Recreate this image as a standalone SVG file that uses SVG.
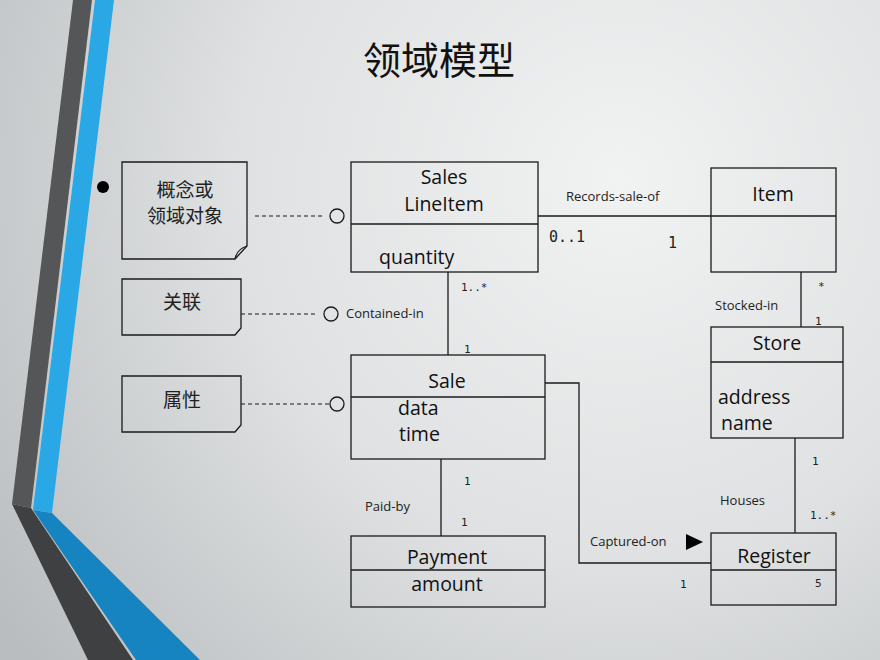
<svg xmlns="http://www.w3.org/2000/svg" width="880" height="660" viewBox="0 0 880 660">
<defs>
<radialGradient id="bg" cx="620" cy="180" r="760" gradientUnits="userSpaceOnUse">
<stop offset="0" stop-color="#f1f2f2"/>
<stop offset="0.5" stop-color="#dfe1e2"/>
<stop offset="1" stop-color="#b9bdbf"/>
</radialGradient>
<style>
.box{fill:none;stroke:#1a1a1a;stroke-width:1.3}
.ln{fill:none;stroke:#1a1a1a;stroke-width:1.3}
.dash{fill:none;stroke:#1a1a1a;stroke-width:1.2;stroke-dasharray:4 3}
.oc{fill:none;stroke:#1a1a1a;stroke-width:1.3}
.cls{font-family:"Open Sans","Noto Sans",sans-serif;font-size:19.5px;fill:#111}
.lab{font-family:"Open Sans","Noto Sans",sans-serif;font-size:13px;fill:#222}
.mono{font-family:"DejaVu Sans Mono","Liberation Mono",monospace;fill:#222}
.cjk{font-family:"Noto Sans CJK SC",sans-serif;fill:#222}
</style>
</defs>
<rect width="880" height="660" fill="url(#bg)"/>
<g id="stripes">
<polygon points="73,0 92,0 31,508 12,504" fill="#555657"/>
<polygon points="12,504 31,508 133,660 88,660" fill="#3f4041"/>
<polygon points="95,0 114,0 52,513 33,510" fill="#2aa8e6"/>
<polygon points="33,510 52,513 200,660 136,660" fill="#1784c2"/>
</g>
<text x="439" y="74" text-anchor="middle" class="cjk" font-size="38" style="fill:#111">领域模型</text>
<circle cx="103" cy="187" r="6" fill="#000"/>
<g id="note1">
<path class="box" d="M122,162 H247 V246 L235,259 H122 Z"/>
<path class="box" d="M235,259 Q237,249 247,246" stroke-width="1"/>
<text x="185" y="197" text-anchor="middle" class="cjk" font-size="19">概念或</text>
<text x="185" y="223" text-anchor="middle" class="cjk" font-size="19">领域对象</text>
</g>
<g id="note2">
<path class="box" d="M122,279 H241 V328 L235,335 H122 Z"/>
<text x="182" y="309" text-anchor="middle" class="cjk" font-size="19">关联</text>
</g>
<g id="note3">
<path class="box" d="M122,376 H241 V425 L235,432 H122 Z"/>
<text x="182" y="407" text-anchor="middle" class="cjk" font-size="19">属性</text>
</g>
<g id="SalesLineItem">
<rect class="box" x="351" y="162" width="187" height="110"/>
<line class="ln" x1="351" y1="224" x2="538" y2="224"/>
<text x="444" y="184" text-anchor="middle" class="cls">Sales</text>
<text x="444" y="211" text-anchor="middle" class="cls">LineItem</text>
<text x="379" y="264" class="cls">quantity</text>
</g>
<g id="Item">
<rect class="box" x="711" y="168" width="125" height="104"/>
<line class="ln" x1="711" y1="216" x2="836" y2="216"/>
<text x="773" y="201" text-anchor="middle" class="cls">Item</text>
</g>
<g id="Store">
<rect class="box" x="711" y="327" width="132" height="111"/>
<line class="ln" x1="711" y1="362" x2="843" y2="362"/>
<text x="777" y="350" text-anchor="middle" class="cls">Store</text>
<text x="718" y="404" class="cls">address</text>
<text x="721" y="430" class="cls">name</text>
</g>
<g id="Sale">
<rect class="box" x="351" y="355" width="194" height="104"/>
<line class="ln" x1="351" y1="397" x2="545" y2="397"/>
<text x="447" y="388" text-anchor="middle" class="cls">Sale</text>
<text x="398" y="415" class="cls">data</text>
<text x="399" y="441" class="cls">time</text>
</g>
<g id="Payment">
<rect class="box" x="351" y="536" width="194" height="71"/>
<line class="ln" x1="351" y1="570" x2="545" y2="570"/>
<text x="447" y="564" text-anchor="middle" class="cls">Payment</text>
<text x="447" y="591" text-anchor="middle" class="cls">amount</text>
</g>
<g id="Register">
<rect class="box" x="711" y="533" width="125" height="72"/>
<line class="ln" x1="711" y1="570" x2="836" y2="570"/>
<text x="774" y="563" text-anchor="middle" class="cls">Register</text>
<text x="815" y="587" class="mono" font-size="11">5</text>
</g>
<g id="connectors">
<line class="dash" x1="255" y1="216" x2="324" y2="216"/>
<circle class="oc" cx="337" cy="216" r="7"/>
<line class="dash" x1="241" y1="314" x2="318" y2="314"/>
<circle class="oc" cx="331" cy="314" r="7"/>
<text x="346" y="318" class="lab">Contained-in</text>
<line class="dash" x1="241" y1="404" x2="330" y2="404"/>
<circle class="oc" cx="337" cy="404" r="7"/>
<line class="ln" x1="538" y1="216" x2="711" y2="216"/>
<text x="566" y="201" class="lab" font-size="14">Records-sale-of</text>
<text x="549" y="242" class="mono" font-size="15">0..1</text>
<text x="668" y="248" class="mono" font-size="15">1</text>
<line class="ln" x1="448" y1="272" x2="448" y2="355"/>
<text x="461" y="291" class="mono" font-size="11">1..*</text>
<text x="464" y="353" class="mono" font-size="11">1</text>
<line class="ln" x1="801" y1="272" x2="801" y2="327"/>
<text x="818" y="290" class="mono" font-size="11">*</text>
<text x="715" y="310" class="lab">Stocked-in</text>
<text x="815" y="325" class="mono" font-size="11">1</text>
<line class="ln" x1="795" y1="438" x2="795" y2="533"/>
<text x="812" y="465" class="mono" font-size="11">1</text>
<text x="720" y="505" class="lab">Houses</text>
<text x="810" y="519" class="mono" font-size="11">1..*</text>
<polyline class="ln" points="545,383 579,383 579,563 711,563"/>
<text x="590" y="546" class="lab">Captured-on</text>
<polygon points="686,534 703,542 686,550" fill="#000"/>
<text x="680" y="588" class="mono" font-size="11">1</text>
<line class="ln" x1="441" y1="459" x2="441" y2="536"/>
<text x="464" y="485" class="mono" font-size="11">1</text>
<text x="365" y="511" class="lab">Paid-by</text>
<text x="461" y="526" class="mono" font-size="11">1</text>
</g>
</svg>
